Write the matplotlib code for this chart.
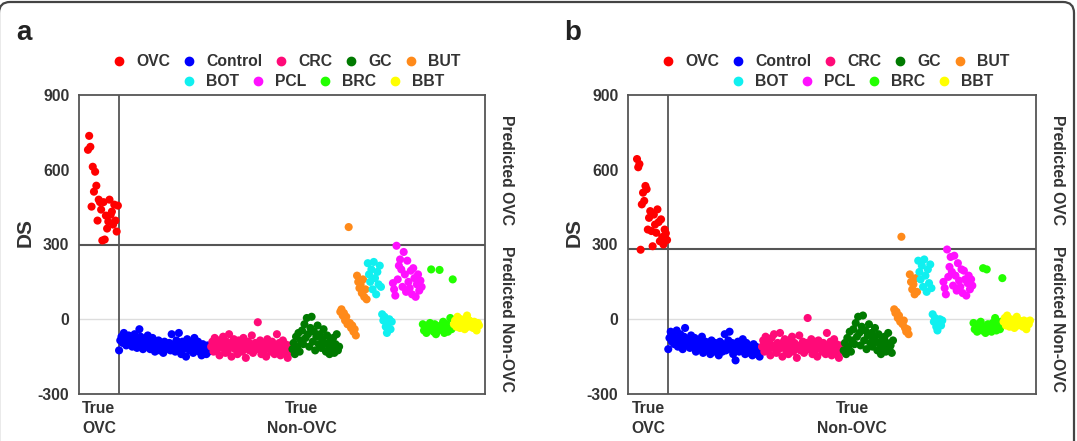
import matplotlib
matplotlib.use('Agg')
import matplotlib.pyplot as plt
from matplotlib.lines import Line2D
from matplotlib.patches import FancyBboxPatch
from matplotlib.transforms import Affine2D, blended_transform_factory
import numpy as np

plt.rcParams['font.family'] = ['Liberation Sans', 'DejaVu Sans']
plt.rcParams['font.weight'] = 'bold'

# ---------------- data ----------------
groups = ['OVC', 'Control', 'CRC', 'GC', 'BUT', 'BOT', 'PCL', 'BRC', 'BBT']
colors = ['#FF0000', '#0000FF', '#FF0A78', '#007A00', '#FF8A1A',
          '#10F0F0', '#FF10FF', '#22FF00', '#FFFF00']
yticks = [-300, 0, 300, 600, 900]
threshold_a = 300
threshold_b = 280

# panel a
ovc_a = [680, 736, 692, 452, 612, 512, 592, 536, 396, 480, 470, 440, 316, 470, 320,
         416, 364, 392, 480, 420, 432, 380, 460, 396, 352, 456]
control_a = [-125, -85, -70, -95, -55, -80, -105, -90, -65, -100, -75, -110, -90, -60, -85,
             -115, -95, -40, -70, -100, -120,
             -80, -95, -110, -65, -90, -120, -100, -75, -105, -130, -95, -115, -85, -125,
             -100, -110, -135, -90, -120, -105, -115,
             -95, -125, -60, -110, -100, -130, -85, -115, -55, -105, -140, -90, -120, -100,
             -150, -80, -110, -125,
             -95, -115, -135, -75, -105, -120, -90, -130, -110, -145, -100, -125, -115, -140,
             -105, -130, -120]
crc_a = [-110, -90, -130, -75, -100, -120, -85, -145, -95, -115,
         -70, -105, -135, -90, -125, -60, -110, -150, -95, -80,
         -120, -100, -140, -85, -115, -105, -130, -75, -95, -155,
         -110, -90, -125, -100, -65, -135, -115, -95, -120, -12,
         -105, -85, -140, -110, -125, -95, -150, -80, -115, -100,
         -130, -90, -120, -140, -105, -60, -125, -95, -145, -110,
         -85, -135, -100, -120, -155, -105, -130, -115]
gc_a = [-120, -95, -140, -70, -110, -55, -130, -85, -45, -100,
        -20, -75, 5, -60, -110, -35, 10, -90, -50, -125,
        -70, -25, -100, -60, -115, -80, -40, -95, -130, -65,
        -105, -140, -85, -120, -75, -135, -100, -60, -125, -110]
but_a = [30, 40, 15, 25, -5, 10, -20, 370, -15, -35, -25, -50, -40, -65,
         175, 150, 125, 140, 105, 160, 90, 120, 80]
bot_a = [225, 180, 150, 200, 120, 230, 165, 100, 190, 140, 215, 130,
         20, -5, 10, -30, -55, -15, 0, -40, -10]
pcl_a = [145, 120, 95, 295, 160, 215, 240, 200, 130, 270, 180, 110, 235, 150, 125,
         195, 100, 205, 165, 90, 140, 180, 115, 155, 130]
brc_a = [-20, -45, -30, -55, -25, -40, -15, 200, -35, -50, -20, -60, -30, -45, 198,
         -25, -40, -10, -55, -35, -20, -50, -30, 5, -40, 160]
bbt_a = [-20, -5, -30, 10, -15, -35, 0, -25, -10, -40, -20, 15, -30, -5, -25,
         -15, -35, -10, -20, -45, -15, -25]

# panel b
ovc_b = [643, 610, 623, 279, 461, 508, 475, 535, 522, 360, 407, 434, 354, 293, 420,
         380, 347, 441, 390, 313, 401, 330, 300, 360, 345, 318]
control_b = [-120, -75, -50, -90, -65, -100, -80, -45, -110, -85,
             -60, -95, -120, -70, -35, -90, -105, -80, -115, -65,
             -95, -110, -75, -130, -100, -85, -120, -95, -70, -135,
             -105, -90, -125, -115, -100, -140, -85, -110, -130, -95,
             -120, -105, -145, -90, -115, -130, -100, -60, -125, -110,
             -85, -50, -120, -95, -140, -105, -165, -115, -90, -130,
             -100, -125, -80, -110, -140, -95, -120, -105, -135, -115,
             -145, -100, -125, -110, -140, -120, -150, -130]
crc_b = [-110, -85, -130, -70, -100, -125, -90, -145, -75, -115,
         -60, -105, -135, -95, -120, -55, -110, -150, -90, -80,
         -125, -100, -140, -85, -115, -70, -130, -95, -105, -155,
         -110, -65, -125, -100, -90, -135, -115, -95, 5, -120,
         -105, -80, -140, -110, -125, -90, -150, -85, -115, -100,
         -130, -95, -120, -140, -55, -105, -125, -90, -145, -110,
         -80, -135, -100, -120, -155, -105, -130, -115]
gc_b = [-125, -95, -140, -75, -110, -50, -130, -85, -40, -100,
        -15, -70, 10, -55, -105, -30, 15, -85, -45, -120,
        -65, -20, -95, -55, -110, -75, -35, -90, -125, -60,
        -100, -140, -80, -115, -70, -130, -95, -55, -120, -105, -135, -85]
but_b = [40, 25, 30, 5, 15, -10, 331, -20, -5, -35, -50, -40, -60,
         180, 150, 120, 140, 100, 165, 110]
bot_b = [235, 190, 160, 215, 130, 240, 175, 110, 200, 145, 220, 125,
         20, -10, 5, -30, -45, -15, 0, -25, -5]
pcl_b = [150, 125, 100, 280, 170, 210, 250, 190, 135, 255, 175, 115, 225, 155, 130,
         200, 105, 195, 160, 95, 145, 175, 120, 160, 135]
brc_b = [-15, -40, -25, -50, -20, -35, -10, -45, 205, -30, -55, 200, -20, -40, -25,
         -50, -15, -35, 5, -45, -30, -20, -40, -10, 165]
bbt_b = [-10, 5, -25, 15, -15, -30, 0, -20, -5, -35, -15, 10, -25, -5, -20,
         -10, -30, -5, -15, -40, -10, -20, -5]

data_a = [ovc_a, control_a, crc_a, gc_a, but_a, bot_a, pcl_a, brc_a, bbt_a]
data_b = [ovc_b, control_b, crc_b, gc_b, but_b, bot_b, pcl_b, brc_b, bbt_b]

# ---------------- layout ----------------
W, H = 1077, 441
fig = plt.figure(figsize=(W / 100, H / 100), dpi=100)
TXT = '#333333'
LINE = '#555555'
FS = 11.3


def px_axes(l, t, r, b):
    return fig.add_axes([l / W, 1 - b / H, (r - l) / W, (b - t) / H])


def draw_panel(ax, data, thr):
    start = 0
    for vals, c in zip(data, colors):
        x = np.arange(start, start + len(vals))
        ax.scatter(x, vals, s=34, color=c, edgecolors='none', zorder=3)
        start += len(vals)
    n_ovc = len(data[0])
    vx = n_ovc - 0.2
    xlo, xhi = -7.5, start + 4
    ax.set_xlim(xlo, xhi)
    ax.set_ylim(-300, 900)
    ax.axhline(0, color='#dddddd', lw=1.0, zorder=1)
    ax.axhline(thr, color=LINE, lw=1.5, zorder=2)
    ax.axvline(vx, color=LINE, lw=1.3, zorder=2)
    ax.set_xticks([])
    ax.set_yticks(yticks)
    ax.set_yticklabels([str(t) for t in yticks])
    ax.tick_params(axis='y', length=0, pad=7, labelsize=FS, labelcolor=TXT)
    for sp in ax.spines.values():
        sp.set_color(LINE)
        sp.set_linewidth(1.3)
    ax.text(-0.133, 0.54, 'DS', rotation=90, ha='center', va='center',
            fontsize=15, fontweight='bold', color=TXT, transform=ax.transAxes)
    tr_r = blended_transform_factory(ax.transAxes, ax.transData)
    ax.text(1.052, 600, 'Predicted OVC', rotation=-90, ha='center', va='center',
            fontsize=FS, fontweight='bold', color=TXT, transform=tr_r)
    ax.text(1.052, 0, 'Predicted Non-OVC', rotation=-90, ha='center', va='center',
            fontsize=FS, fontweight='bold', color=TXT, transform=tr_r)
    tr_b = blended_transform_factory(ax.transData, ax.transAxes)
    cx1 = (xlo + vx) / 2
    cx2 = (vx + xhi) / 2
    for cx, second in [(cx1, 'OVC'), (cx2, 'Non-OVC')]:
        ax.text(cx, -0.050, 'True', ha='center', va='center', fontsize=FS,
                fontweight='bold', color=TXT, transform=tr_b)
        ax.text(cx, -0.117, second, ha='center', va='center', fontsize=FS,
                fontweight='bold', color=TXT, transform=tr_b)


ax_a = px_axes(79, 95, 485, 394)
ax_b = px_axes(628, 95, 1036, 394)
draw_panel(ax_a, data_a, threshold_a)
draw_panel(ax_b, data_b, threshold_b)

renderer = fig.canvas.get_renderer()


def draw_legend(left_px):
    rows = [(groups[:5], 40, 61), (groups[5:], 110, 81)]
    for names, dx, ypx in rows:
        x = left_px + dx
        for n in names:
            c = colors[groups.index(n)]
            fig.add_artist(Line2D([x / W], [1 - ypx / H], marker='o', ms=6,
                                  color=c, linestyle='none', transform=fig.transFigure))
            t = fig.text((x + 17) / W, 1 - ypx / H, n, ha='left', va='center',
                         fontsize=FS, fontweight='bold', color=TXT)
            bb = t.get_window_extent(renderer=renderer)
            x = bb.x1 + 19


draw_legend(79)
draw_legend(628)

fig.text(24 / W, 1 - 32.5 / H, 'a', fontsize=20, fontweight='bold', ha='center',
         va='center', color='#222222')
fig.text(573 / W, 1 - 32.5 / H, 'b', fontsize=20, fontweight='bold', ha='center',
         va='center', color='#222222')

pix = Affine2D().scale(1 / W, 1 / H) + fig.transFigure
border = FancyBboxPatch((-1, -40), 1075, 479, boxstyle='round,pad=0,rounding_size=11',
                        transform=pix, fill=False, edgecolor='#444444', lw=1.6)
fig.add_artist(border)

fig.savefig('out.png', dpi=100)
